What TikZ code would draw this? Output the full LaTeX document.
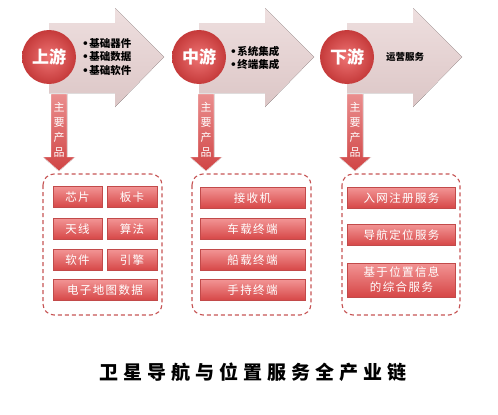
\documentclass[tikz,border=0pt]{standalone}
\usepackage{fontspec}
\setmainfont{Noto Sans CJK SC}
\newfontfamily\dotfont{DejaVu Sans}
\newcommand\bdot{{\dotfont •}\kern0.5pt}
\definecolor{arrowtop}{HTML}{EEDFDF}
\definecolor{arrowbot}{HTML}{DCC6C6}
\definecolor{circin}{HTML}{EE7474}
\definecolor{circout}{HTML}{C53A3A}
\definecolor{darrtop}{HTML}{EA8E8E}
\definecolor{darrbot}{HTML}{D04444}
\definecolor{boxtop}{HTML}{F29494}
\definecolor{boxbot}{HTML}{D64646}
\definecolor{boxline}{HTML}{C24A4A}
\definecolor{dashline}{HTML}{C65454}
\begin{document}
\begin{tikzpicture}[x=1pt,y=-1pt,
  bigarrow/.style={top color=arrowtop,bottom color=arrowbot,draw=none},
  circ/.style={circle,minimum size=54pt,inner sep=0pt,inner color=circin,outer color=circout,text=white,font=\fontsize{17}{17}\selectfont\bfseries},
  darrow/.style={top color=darrtop,bottom color=darrbot,draw=white,line width=0.4pt},
  vlabel/.style={text=white,align=center,font=\fontsize{11}{15}\selectfont,inner sep=0pt},
  bullets/.style={anchor=west,align=left,inner sep=0pt,font=\fontsize{10.5}{13.5}\selectfont\bfseries},
  dashbox/.style={draw=dashline,line width=1.1pt,dash pattern=on 4pt off 3pt,rounded corners=11pt},
  prod/.style={rectangle,top color=boxtop,bottom color=boxbot,draw=boxline,line width=0.4pt,text=white,minimum height=21pt,inner sep=0pt,align=center,font=\fontsize{11.5}{15}\selectfont\addfontfeature{LetterSpace=12}},
  title/.style={inner sep=0pt,font=\fontsize{19}{19}\selectfont\bfseries\addfontfeature{LetterSpace=26}}
]
\useasboundingbox (0,0) rectangle (498,415);
% big arrows
\foreach \cx in {49,199,347}{
  \fill[bigarrow] (\cx,23) -- (\cx+66,23) -- (\cx+66,8) -- (\cx+115,57) -- (\cx+66,107) -- (\cx+66,93) -- (\cx,93) -- cycle;
}
% circles
\node[circ] (up) at (49,57) {上游};
\node[circ] (mid) at (199,57) {中游};
\node[circ] (down) at (347,57) {下游};
% bullet texts
\node[bullets] (upt) at (82,57) {\bdot 基础器件\\\bdot 基础数据\\\bdot 基础软件};
\node[bullets] (midt) at (230,58) {\bdot 系统集成\\\bdot 终端集成};
\node[bullets,font=\fontsize{9.5}{12}\selectfont\bfseries] (downt) at (386,57) {运营服务};
% down arrows
\foreach \dx/\nm in {59/a1,206/a2,355/a3}{
  \filldraw[darrow] (\dx-8,94) -- (\dx+8,94) -- (\dx+8,157) -- (\dx+16,157) -- (\dx,171) -- (\dx-16,157) -- (\dx-8,157) -- cycle;
  \node[vlabel] (\nm) at (\dx,130) {主\\要\\产\\品};
}
% dashed groups
\draw[dashbox] (43,174) rectangle (162,315);
\draw[dashbox] (192,174) rectangle (311,315);
\draw[dashbox] (342,174) rectangle (460,315);
% upstream products
\node[prod,minimum width=49pt] (p1) at (77.5,197) {芯片};
\node[prod,minimum width=50pt] (p2) at (132,197) {板卡};
\node[prod,minimum width=49pt] (p3) at (77.5,229) {天线};
\node[prod,minimum width=50pt] (p4) at (132,229) {算法};
\node[prod,minimum width=49pt] (p5) at (77.5,260) {软件};
\node[prod,minimum width=50pt] (p6) at (132,260) {引擎};
\node[prod,minimum width=104pt] (p7) at (105,290) {电子地图数据};
% midstream products
\node[prod,minimum width=105pt] (m1) at (252.5,198) {接收机};
\node[prod,minimum width=105pt] (m2) at (252.5,229) {车载终端};
\node[prod,minimum width=105pt] (m3) at (252.5,260) {船载终端};
\node[prod,minimum width=105pt] (m4) at (252.5,290) {手持终端};
% downstream products
\node[prod,minimum width=108pt] (d1) at (401.5,198) {入网注册服务};
\node[prod,minimum width=108pt] (d2) at (401.5,235) {导航定位服务};
\node[prod,minimum width=108pt,minimum height=34pt] (d3) at (401.5,280) {基于位置信息\\的综合服务};
% title
\node[title] (t) at (253,372) {卫星导航与位置服务全产业链};
\end{tikzpicture}
\end{document}
